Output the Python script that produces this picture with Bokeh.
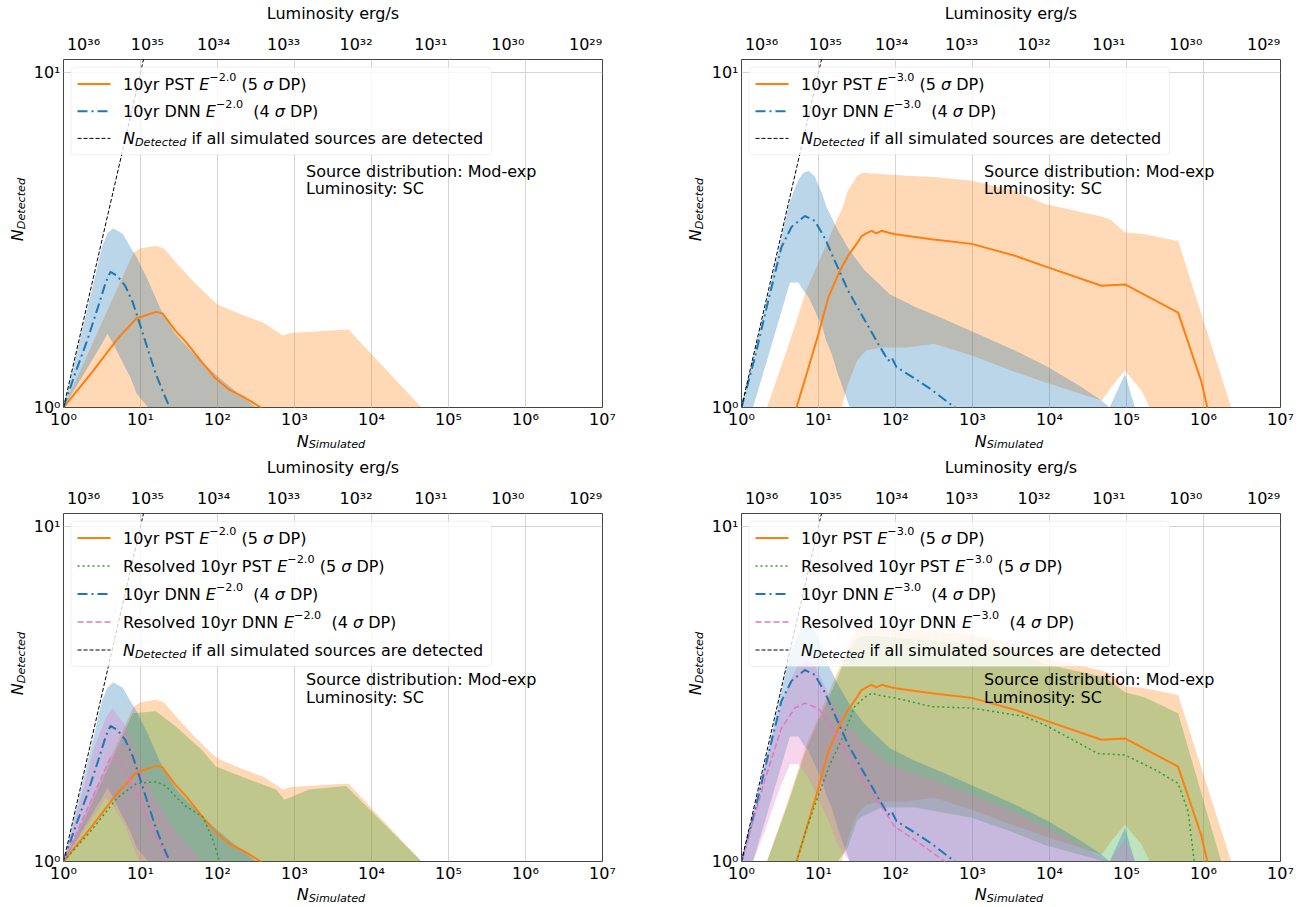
import math
from bokeh.plotting import figure
from bokeh.models import Range1d, FixedTicker, LogAxis, Label, BoxAnnotation, Arrow
from bokeh.layouts import row, column
from bokeh.embed import file_html
from bokeh.resources import INLINE

FONT = "DejaVu Sans"

# ---------------------------------------------------------------- data
x_ticks = [1, 10, 100, 1000, 10000, 100000, 1000000, 10000000]
x_tick_labels = ["10⁰", "10¹", "10²", "10³", "10⁴", "10⁵", "10⁶", "10⁷"]
y_ticks = [1, 10]
y_tick_labels = ["10⁰", "10¹"]
lum_tick_pos = [1.82, 12.3, 89, 724, 6310, 58900, 589000, 6030000]
lum_tick_labels = ["10³⁶", "10³⁵", "10³⁴", "10³³", "10³²", "10³¹", "10³⁰", "10²⁹"]

# N_Detected = N_Simulated reference line
ideal_x = [1, 100]
ideal_y = [1, 100]

# ---- E^-2.0
pst2_x = [1, 2.38, 5.0, 8.95, 10.6, 15.8, 19.3, 28.7, 38.8, 63.8, 95, 142, 211, 366, 500]
pst2_y = [1.0, 1.28, 1.60, 1.85, 1.87, 1.93, 1.91, 1.69, 1.57, 1.36, 1.22, 1.13, 1.08, 1.0, 0.89]
pst2_band_x = [1, 2.0, 3.98, 8.13, 10, 15.8, 20, 31.6, 50.1, 79.4, 100, 200, 398, 708, 891, 5012, 44670]
pst2_band_hi = [1.0, 1.42, 2.02, 2.90, 2.99, 3.04, 2.99, 2.65, 2.36, 2.13, 2.03, 1.90, 1.79, 1.64, 1.67, 1.71, 1.0]
pst2_band_lo = [1.0, 1.0, 1.0, 1.0, 1.0, 1.0, 1.0, 1.0, 1.0, 1.0, 1.0, 1.0, 1.0, 1.0, 1.0, 1.0, 1.0]

dnn2_x = [1, 1.41, 2.0, 2.82, 3.55, 4.07, 5.01, 6.31, 7.94, 10, 12.6, 15.8, 20, 24, 28.2]
dnn2_y = [1.0, 1.26, 1.57, 2.0, 2.37, 2.54, 2.47, 2.31, 2.06, 1.75, 1.48, 1.26, 1.10, 1.0, 0.89]
dnn2_band_x = [1, 1.585, 2.51, 3.16, 3.72, 4.42, 5.89, 7.41, 8.91, 12.6, 17.8, 28.2, 50.1, 100, 178, 316]
dnn2_band_hi = [1.0, 1.55, 2.40, 3.02, 3.31, 3.43, 3.30, 3.01, 2.81, 2.39, 1.99, 1.66, 1.44, 1.24, 1.11, 1.0]
dnn2_band_lo = [1.0, 1.19, 1.42, 1.55, 1.66, 1.55, 1.36, 1.23, 1.10, 1.0, 1.0, 1.0, 1.0, 1.0, 1.0, 1.0]

rpst2_x = [1, 2.24, 5.01, 8.91, 15.8, 21.4, 28.8, 38.9, 64.6, 87.1, 107, 126]
rpst2_y = [1.0, 1.23, 1.55, 1.71, 1.73, 1.68, 1.56, 1.46, 1.36, 1.16, 1.0, 0.89]
rpst2_band_x = [1, 2.0, 3.98, 7.94, 15.8, 28.8, 63.1, 95.5, 209, 575, 741, 1549, 4677, 44700, 56200]
rpst2_band_hi = [1.0, 1.38, 1.95, 2.77, 2.81, 2.53, 2.15, 1.92, 1.79, 1.64, 1.53, 1.64, 1.68, 1.0, 0.89]
rpst2_band_lo = [1.0, 1.0, 1.0, 1.0, 1.0, 1.0, 1.0, 1.0, 1.0, 1.0, 1.0, 1.0, 1.0, 1.0, 1.0]

rdnn2_x = [1, 2.0, 3.16, 4.12, 5.25, 7.24, 10, 13.2, 18.2, 21.4, 25.1]
rdnn2_y = [1.0, 1.42, 1.80, 2.06, 2.01, 1.75, 1.53, 1.30, 1.11, 1.0, 0.89]
rdnn2_band_x = [1, 1.585, 2.51, 3.55, 4.33, 6.46, 9.55, 15.8, 28.8, 47.3, 63.1]
rdnn2_band_hi = [1.0, 1.48, 2.19, 2.69, 2.87, 2.53, 2.01, 1.53, 1.22, 1.08, 1.0]
rdnn2_band_lo = [1.0, 1.17, 1.38, 1.55, 1.48, 1.26, 1.0, 1.0, 1.0, 1.0, 1.0]

# ---- E^-3.0
pst3_x = [3.98, 5.18, 7.08, 10, 13.5, 19.1, 24.5, 31.6, 36.3, 41.7, 49.0, 56.2, 66.1, 79.4, 100,
          295, 977, 3548, 9550, 47300, 95500, 468000, 933000, 1122000, 1413000]
pst3_y = [0.79, 1.0, 1.27, 1.66, 2.14, 2.57, 2.85, 3.09, 3.25, 3.31, 3.37, 3.31, 3.37, 3.33, 3.29,
          3.18, 3.08, 2.84, 2.62, 2.31, 2.33, 1.92, 1.20, 1.0, 0.79]
pst3_band_x = [1.78, 2.14, 3.98, 6.92, 11.2, 17.8, 20.0, 24.0, 31.6, 36.3, 41.7, 66.1, 138, 316, 977,
               3162, 8710, 47300, 52500, 63100, 95500, 158000, 200000, 468000, 2290000, 2820000]
pst3_band_hi = [0.89, 1.0, 1.51, 2.23, 2.88, 3.69, 3.89, 4.44, 4.90, 5.01, 5.01, 4.98, 4.92, 4.88, 4.75,
                4.47, 4.05, 3.72, 3.69, 3.63, 3.33, 3.30, 3.27, 3.14, 1.0, 0.89]
pst3_band_lo = [1.0, 1.0, 1.0, 1.0, 1.0, 1.0, 1.0, 1.17, 1.38, 1.43, 1.48, 1.51, 1.51, 1.55, 1.43,
                1.29, 1.19, 1.05, 1.08, 1.15, 1.29, 1.12, 1.0, 1.0, 1.0, 1.0]

dnn3_x = [1, 1.49, 2.22, 3.30, 4.46, 6.65, 8.95, 12.1, 16.3, 24.3, 40.0, 59.6, 80.4, 89.1, 103, 178, 294, 590, 794]
dnn3_y = [1.0, 1.41, 2.08, 3.01, 3.46, 3.73, 3.61, 3.20, 2.74, 2.23, 1.82, 1.55, 1.38, 1.41, 1.32, 1.22, 1.13, 1.0, 0.89]
dnn3_band_x = [1, 1.41, 2.0, 3.16, 3.98, 4.27, 5.01, 5.5, 6.31, 7.41, 8.91, 11.2, 12.6, 14.8, 17.8, 25.5,
               39.8, 84.3, 178, 377, 977, 3548, 9550, 26300, 47300, 60300, 95500, 129000]
dnn3_band_hi = [1.0, 1.40, 1.95, 3.09, 3.89, 4.12, 4.57, 4.79, 5.01, 5.08, 4.90, 4.34, 3.98, 3.69, 3.39, 2.94,
                2.57, 2.18, 2.0, 1.86, 1.69, 1.48, 1.32, 1.15, 1.05, 1.0, 1.26, 1.0]
dnn3_band_lo = [1.0, 1.0, 1.31, 1.87, 2.24, 2.36, 2.36, 2.36, 2.24, 2.14, 1.95, 1.74, 1.58, 1.45, 1.26, 1.0,
                1.0, 1.0, 1.0, 1.0, 1.0, 1.0, 1.0, 1.0, 1.0, 1.0, 1.0, 1.0]

rpst3_x = [3.98, 5.18, 7.08, 10, 14.1, 20.0, 29.5, 39.8, 48.8, 63.1, 97.7, 295, 977, 4786, 9550,
           42700, 95500, 234000, 468000, 631000, 759000, 891000]
rpst3_y = [0.79, 1.0, 1.26, 1.58, 1.95, 2.31, 2.90, 3.09, 3.18, 3.13, 3.08, 2.90, 2.87, 2.71, 2.53,
           2.10, 2.08, 1.88, 1.71, 1.41, 1.0, 0.79]
rpst3_band_x = [1.78, 2.14, 3.98, 6.92, 11.2, 17.8, 24.0, 31.6, 36.3, 66.1, 178, 977, 3162, 8710,
                52500, 95500, 174000, 468000, 1698000, 1995000]
rpst3_band_hi = [0.89, 1.0, 1.48, 2.16, 2.79, 3.55, 4.22, 4.62, 4.73, 4.70, 4.62, 4.47, 4.27, 3.89,
                 3.55, 3.20, 3.09, 2.77, 1.0, 0.89]
rpst3_band_lo = [1.0, 1.0, 1.0, 1.0, 1.0, 1.0, 1.10, 1.32, 1.36, 1.45, 1.45, 1.35, 1.23, 1.12,
                 1.0, 1.0, 1.0, 1.0, 1.0, 1.0]

rdnn3_x = [1, 2.01, 3.30, 4.93, 6.65, 9.91, 14.8, 24.3, 40.0, 65.8, 97.7, 178, 437, 562]
rdnn3_y = [1.0, 1.75, 2.50, 2.87, 2.97, 2.87, 2.53, 2.06, 1.71, 1.46, 1.27, 1.16, 1.0, 0.89]
rdnn3_band_x = [1, 1.41, 2.0, 3.16, 4.27, 5.5, 7.41, 8.91, 11.2, 14.8, 17.8, 25.5, 39.8, 84.3, 178, 377,
                977, 3548, 9550, 26300, 47300, 60300, 95500, 129000]
rdnn3_band_hi = [1.0, 1.38, 1.91, 2.82, 3.47, 3.89, 3.98, 3.85, 3.47, 3.02, 2.82, 2.51, 2.24, 1.95, 1.82, 1.72,
                 1.58, 1.40, 1.26, 1.11, 1.02, 1.0, 1.17, 1.0]
rdnn3_band_lo = [1.0, 1.0, 1.23, 1.66, 1.95, 1.95, 1.78, 1.62, 1.45, 1.26, 1.12, 1.0, 1.0, 1.0, 1.0, 1.0,
                 1.0, 1.0, 1.0, 1.0, 1.0, 1.0, 1.0, 1.0]

# ---------------------------------------------------------------- style
C_PST, C_RPST, C_DNN, C_RDNN = "#ff7f0e", "#2ca02c", "#1f77b4", "#e377c2"
D_PST, D_RPST, D_DNN, D_RDNN, D_IDEAL = "solid", "2 3", "10 4 2 4", "6 3", "4 2"
BAND_ALPHA = 0.3
FW, FH = 539, 348
B_TOP, B_BOT, B_LEFT = 59, 24, 31      # borders of each plot (axes only)
YLAB_W = 30                            # strip to the left holding the y title
XLAB_H = (23, 22)                      # strip below holding the x title (top row, bottom row)
TEXT_DY = 6.0                          # svg text sits this much low: compensate

# DejaVu Sans advance widths (units per em = 2048) for placing rich-text pieces
ADV = {" ": 651, "(": 799, ")": 799, "-": 739, ".": 651, "/": 690, ":": 690, "−": 1716, "σ": 1300,
       "0": 1303, "1": 1303, "2": 1303, "3": 1303, "4": 1303, "5": 1303, "6": 1303, "7": 1303, "8": 1303, "9": 1303,
       "D": 1577, "E": 1294, "N": 1532, "P": 1235, "R": 1423, "S": 1300, "T": 1251, "C": 1430, "M": 1767, "L": 1141,
       "a": 1255, "b": 1300, "c": 1126, "d": 1300, "e": 1260, "f": 721, "g": 1300, "i": 569, "l": 569, "m": 1995,
       "n": 1298, "o": 1253, "p": 1300, "r": 842, "s": 1067, "t": 803, "u": 1298, "v": 1212, "x": 1212, "y": 1212}


def text_w(s, size):
    return sum(ADV.get(ch, 1250) for ch in s) * size / 2048.0


def add_rich(p, x0, y0, parts, rotated=False, sub_drop=4.0):
    """Place a run of text pieces (normal / italic / super / sub) starting at baseline (x0, y0)."""
    pos = 0.0
    for txt, kind in parts:
        size = 16.0 if kind in ("n", "i") else 11.2
        shift = 7.0 if kind == "sup" else (-sub_drop if kind == "subi" else 0.0)
        shift += TEXT_DY
        style = "italic" if kind in ("i", "subi") else "normal"
        lead = len(txt) - len(txt.lstrip(" "))
        pos += lead * ADV[" "] * size / 2048.0
        core = txt.strip(" ")
        if rotated:
            lx, ly, ang = x0 - shift, y0 + pos, math.pi / 2
        else:
            lx, ly, ang = x0 + pos, y0 + shift, 0.0
        p.add_layout(Label(x=lx, y=ly, x_units="screen", y_units="screen", text=core, angle=ang,
                           text_font=FONT, text_font_size=f"{size}px", text_font_style=style,
                           text_color="#000000", text_align="left", text_baseline="alphabetic"))
        pos += text_w(txt.lstrip(" "), size)


def rich_width(parts):
    return sum(text_w(t, 16.0 if k in ("n", "i") else 11.2) for t, k in parts)


def style_axis(ax, standoff):
    ax.axis_line_color = None
    ax.major_tick_in = 0
    ax.major_tick_out = 0
    ax.minor_tick_in = 0
    ax.minor_tick_out = 0
    ax.major_label_text_font = FONT
    ax.major_label_text_font_size = "16px"
    ax.major_label_text_color = "#000000"
    ax.major_label_standoff = standoff


def strip(width, height):
    s = figure(width=width, height=height, x_range=Range1d(0, width), y_range=Range1d(0, height),
               min_border=0, x_axis_location=None, y_axis_location=None, title=None,
               output_backend="svg", toolbar_location=None, outline_line_color=None,
               background_fill_color="white", border_fill_color="white")
    s.xgrid.visible = False
    s.ygrid.visible = False
    return s


def make_panel(bands, lines, entries, text_down, left_col):
    p = figure(x_axis_type="log", y_axis_type="log", title=None,
               x_range=Range1d(1, 1e7), y_range=Range1d(1, 10.94),
               frame_width=FW, frame_height=FH,
               min_border_left=B_LEFT, min_border_right=76 if left_col else 29,
               min_border_top=B_TOP, min_border_bottom=B_BOT,
               output_backend="svg", toolbar_location=None,
               background_fill_color="white", border_fill_color="white",
               outline_line_color="#444444", outline_line_width=1)

    xa = p.xaxis[0]
    xa.ticker = FixedTicker(ticks=x_ticks)
    xa.major_label_overrides = dict(zip(x_ticks, x_tick_labels))
    style_axis(xa, 2)
    ya = p.yaxis[0]
    ya.ticker = FixedTicker(ticks=y_ticks)
    ya.major_label_overrides = dict(zip(y_ticks, y_tick_labels))
    style_axis(ya, 3)
    top = LogAxis(ticker=FixedTicker(ticks=lum_tick_pos),
                  major_label_overrides=dict(zip(lum_tick_pos, lum_tick_labels)),
                  axis_label="Luminosity erg/s", axis_label_text_font=FONT,
                  axis_label_text_font_size="16px", axis_label_text_font_style="normal",
                  axis_label_text_color="#000000", axis_label_standoff=9)
    style_axis(top, 6)
    p.add_layout(top, "above")

    p.xgrid.grid_line_color = "#d4d4d4"
    p.ygrid.grid_line_color = "#d4d4d4"
    p.xgrid.grid_line_width = 1
    p.ygrid.grid_line_width = 1

    for bx, lo, hi, col in bands:
        p.varea(x=bx, y1=lo, y2=hi, fill_color=col, fill_alpha=BAND_ALPHA)
    for lx, ly, col, w, dash in lines:
        p.line(lx, ly, line_color=col, line_width=w, line_dash=dash)
    p.line(ideal_x, ideal_y, line_color="#000000", line_width=1, line_dash=D_IDEAL)

    # legend
    step = 27.2 if len(entries) == 3 else 28
    ys = [24.5 + step * i for i in range(len(entries))]
    p.add_layout(BoxAnnotation(left=7.5, right=428, top=FH - 7.7, bottom=FH - (ys[-1] + 16.5),
                               left_units="screen", right_units="screen",
                               top_units="screen", bottom_units="screen",
                               fill_color="white", fill_alpha=0.8,
                               line_color="#cccccc", line_width=1, border_radius=4))
    for (col, w, dash, parts), yd in zip(entries, ys):
        yu = FH - yd
        p.add_layout(Arrow(end=None, x_start=14, y_start=yu, x_end=47, y_end=yu,
                           start_units="screen", end_units="screen",
                           line_color=col, line_width=w, line_dash=dash))
        add_rich(p, 59.5, yu - 6, parts)

    for txt, d in zip(["Source distribution: Mod-exp", "Luminosity: SC"], text_down):
        p.add_layout(Label(x=242.5, y=FH - d + TEXT_DY, x_units="screen", y_units="screen", text=txt,
                           text_font=FONT, text_font_size="16px", text_color="#000000",
                           text_align="left", text_baseline="alphabetic"))
    return p


YLAB = [("N", "i"), ("Detected", "subi")]
XLAB = [("N", "i"), ("Simulated", "subi")]


def with_titles(p, left_col, top_row):
    """Wrap a panel with strips carrying the subscripted axis titles."""
    h = B_TOP + FH + B_BOT
    yl = strip(YLAB_W, h)
    add_rich(yl, 23.0, (FH / 2 + B_BOT) - rich_width(YLAB) / 2, YLAB, rotated=True)
    w = YLAB_W + B_LEFT + FW + (76 if left_col else 29)
    xh = XLAB_H[0] if top_row else XLAB_H[1]
    xl = strip(w, xh)
    add_rich(xl, YLAB_W + B_LEFT + FW / 2 - rich_width(XLAB) / 2, 7.5 if top_row else 7.0, XLAB, sub_drop=3.5)
    return column(row(yl, p), xl)


def entry_parts(prefix, exp, sig, gap):
    return [(prefix, "n"), ("E", "i"), (exp, "sup"), (gap + "(" + sig + " ", "n"), ("σ", "i"), (" DP)", "n")]


IDEAL_PARTS = [("N", "i"), ("Detected", "subi"), (" if all simulated sources are detected", "n")]


def entries_for(exp, resolved):
    e = [(C_PST, 2, D_PST, entry_parts("10yr PST ", exp, "5", " "))]
    if resolved:
        e.append((C_RPST, 1.5, D_RPST, entry_parts("Resolved 10yr PST ", exp, "5", " ")))
    e.append((C_DNN, 2, D_DNN, entry_parts("10yr DNN ", exp, "4", "  ")))
    if resolved:
        e.append((C_RDNN, 1.5, D_RDNN, entry_parts("Resolved 10yr DNN ", exp, "4", "  ")))
    e.append(("#000000", 1, D_IDEAL, IDEAL_PARTS))
    return e


TOP_TEXT = [118.3, 135.3]
BOT_TEXT = [172.0, 189.7]

tl = make_panel(
    bands=[(pst2_band_x, pst2_band_lo, pst2_band_hi, C_PST),
           (dnn2_band_x, dnn2_band_lo, dnn2_band_hi, C_DNN)],
    lines=[(pst2_x, pst2_y, C_PST, 2, D_PST),
           (dnn2_x, dnn2_y, C_DNN, 2, D_DNN)],
    entries=entries_for("−2.0", False), text_down=TOP_TEXT, left_col=True)

tr = make_panel(
    bands=[(pst3_band_x, pst3_band_lo, pst3_band_hi, C_PST),
           (dnn3_band_x, dnn3_band_lo, dnn3_band_hi, C_DNN)],
    lines=[(pst3_x, pst3_y, C_PST, 2, D_PST),
           (dnn3_x, dnn3_y, C_DNN, 2, D_DNN)],
    entries=entries_for("−3.0", False), text_down=TOP_TEXT, left_col=False)

bl = make_panel(
    bands=[(pst2_band_x, pst2_band_lo, pst2_band_hi, C_PST),
           (rpst2_band_x, rpst2_band_lo, rpst2_band_hi, C_RPST),
           (dnn2_band_x, dnn2_band_lo, dnn2_band_hi, C_DNN),
           (rdnn2_band_x, rdnn2_band_lo, rdnn2_band_hi, C_RDNN)],
    lines=[(pst2_x, pst2_y, C_PST, 2, D_PST),
           (rpst2_x, rpst2_y, C_RPST, 1.5, D_RPST),
           (dnn2_x, dnn2_y, C_DNN, 2, D_DNN),
           (rdnn2_x, rdnn2_y, C_RDNN, 1.5, D_RDNN)],
    entries=entries_for("−2.0", True), text_down=BOT_TEXT, left_col=True)

br = make_panel(
    bands=[(pst3_band_x, pst3_band_lo, pst3_band_hi, C_PST),
           (rpst3_band_x, rpst3_band_lo, rpst3_band_hi, C_RPST),
           (dnn3_band_x, dnn3_band_lo, dnn3_band_hi, C_DNN),
           (rdnn3_band_x, rdnn3_band_lo, rdnn3_band_hi, C_RDNN)],
    lines=[(pst3_x, pst3_y, C_PST, 2, D_PST),
           (rpst3_x, rpst3_y, C_RPST, 1.5, D_RPST),
           (dnn3_x, dnn3_y, C_DNN, 2, D_DNN),
           (rdnn3_x, rdnn3_y, C_RDNN, 1.5, D_RDNN)],
    entries=entries_for("−3.0", True), text_down=BOT_TEXT, left_col=False)

layout = column(row(with_titles(tl, True, True), with_titles(tr, False, True)),
                row(with_titles(bl, True, False), with_titles(br, False, False)))
open("out.html", "w").write(file_html(layout, INLINE))
